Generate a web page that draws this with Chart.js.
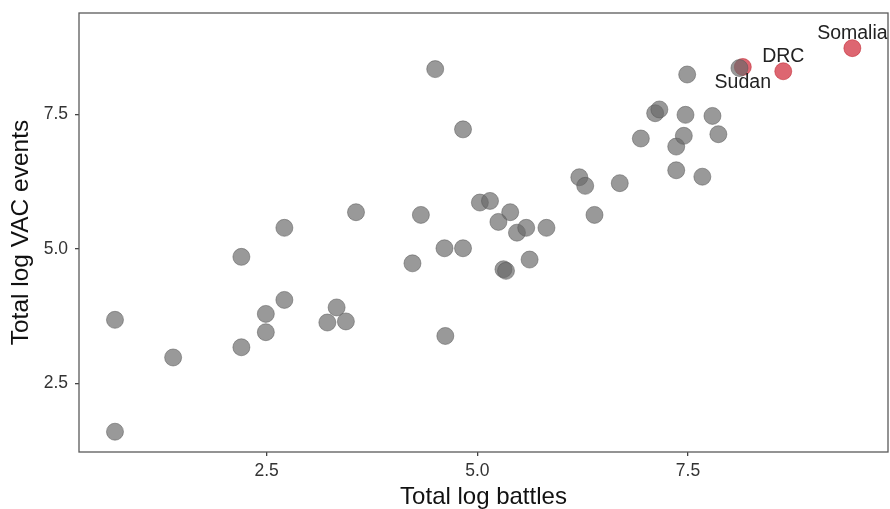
<!DOCTYPE html>
<html>
<head>
<meta charset="utf-8">
<script src="https://cdn.jsdelivr.net/npm/chart.js@4"></script>
<style>
  html, body { margin: 0; padding: 0; background: #fff; }
  #wrap { width: 890px; height: 509px; }
</style>
</head>
<body>
<div id="wrap"><canvas id="chart" width="890" height="509"></canvas></div>
<script>
// other countries (total log battles, total log VAC events)
const otherBattles = [0.70, 0.70, 1.39, 2.20, 2.20, 2.49, 2.49, 2.71, 2.71, 3.22, 3.33, 3.44, 3.56,
    4.33, 4.23, 4.50, 4.61, 4.62, 4.83, 4.83, 5.03, 5.15, 5.39, 5.25, 5.47, 5.58, 5.82, 5.62, 5.31,
    5.34, 6.21, 6.28, 6.69, 6.39, 6.94, 7.11, 7.16, 7.36, 7.36, 7.45, 7.47, 7.49, 7.79, 7.86, 7.67, 8.11];
const otherVac = [3.68, 1.60, 2.98, 4.85, 3.17, 3.79, 3.45, 5.39, 4.05, 3.63, 3.91, 3.65, 5.68,
    5.63, 4.73, 8.34, 5.01, 3.38, 7.22, 5.01, 5.86, 5.89, 5.68, 5.50, 5.30, 5.39, 5.39, 4.80, 4.62,
    4.59, 6.33, 6.17, 6.22, 5.63, 7.05, 7.52, 7.59, 6.90, 6.46, 7.10, 7.49, 8.24, 7.47, 7.13, 6.34, 8.36];

// highlighted countries
const hiNames = ['Sudan', 'DRC', 'Somalia'];
const hiBattles = [8.15, 8.63, 9.45];
const hiVac = [8.38, 8.30, 8.73];
const hiLabelSide = ['below', 'above', 'above'];

const xTicks = [2.5, 5.0, 7.5];
const yTicks = [2.5, 5.0, 7.5];

const FONT = "'Liberation Sans', Arial, Helvetica, sans-serif";

const panelBox = {
    id: 'panelBox',
    afterDraw(chart) {
        const { ctx, chartArea: a } = chart;
        ctx.save();
        ctx.strokeStyle = '#5a5a5a';
        ctx.lineWidth = 1.3;
        ctx.strokeRect(a.left, a.top, a.right - a.left, a.bottom - a.top);
        ctx.restore();
    }
};

const pointLabels = {
    id: 'pointLabels',
    afterDatasetsDraw(chart) {
        const { ctx } = chart;
        const meta = chart.getDatasetMeta(1);
        ctx.save();
        ctx.font = '19.5px ' + FONT;
        ctx.fillStyle = '#222';
        ctx.textAlign = 'center';
        ctx.textBaseline = 'middle';
        meta.data.forEach((pt, i) => {
            const dy = hiLabelSide[i] === 'below' ? 16 : -15;
            ctx.fillText(hiNames[i], pt.x, pt.y + dy);
        });
        ctx.restore();
    }
};

// fixed axis box sizes, no automatic label padding around the panel
const fixBox = size => s => {
    if (s.isHorizontal()) s.height = size; else s.width = size;
    s.paddingTop = 0; s.paddingBottom = 0; s.paddingLeft = 0; s.paddingRight = 0;
};

new Chart(document.getElementById('chart'), {
    type: 'scatter',
    data: {
        datasets: [
            {
                data: otherBattles.map((x, i) => ({ x, y: otherVac[i] })),
                backgroundColor: 'rgba(105,105,105,0.68)',
                borderColor: 'rgba(85,85,85,0.5)',
                borderWidth: 1,
                pointRadius: 8.5,
                pointHoverRadius: 8.5
            },
            {
                data: hiBattles.map((x, i) => ({ x, y: hiVac[i] })),
                backgroundColor: 'rgba(205,30,45,0.68)',
                borderColor: 'rgba(190,30,40,0.5)',
                borderWidth: 1,
                pointRadius: 8.5,
                pointHoverRadius: 8.5
            }
        ]
    },
    options: {
        responsive: false,
        animation: false,
        layout: { autoPadding: false, padding: { top: 13, right: 2, left: 0, bottom: 0 } },
        plugins: { legend: { display: false }, tooltip: { enabled: false } },
        scales: {
            x: {
                type: 'linear',
                min: 0.273,
                max: 9.873,
                afterBuildTicks: s => { s.ticks = xTicks.map(v => ({ value: v })); },
                afterFit: fixBox(57),
                grid: { drawOnChartArea: false, tickLength: 4, color: '#444', lineWidth: 1.3 },
                border: { display: false },
                ticks: {
                    padding: 5,
                    color: '#333',
                    font: { family: FONT, size: 17.5 },
                    callback: v => Number(v).toFixed(1)
                },
                title: {
                    display: true,
                    text: 'Total log battles',
                    color: '#111',
                    font: { family: FONT, size: 24 },
                    padding: { top: 0, bottom: -3 }
                }
            },
            y: {
                type: 'linear',
                min: 1.223,
                max: 9.383,
                afterBuildTicks: s => { s.ticks = yTicks.map(v => ({ value: v })); },
                afterFit: fixBox(79),
                grid: { drawOnChartArea: false, tickLength: 4, color: '#444', lineWidth: 1.3 },
                border: { display: false },
                ticks: {
                    padding: 7,
                    color: '#333',
                    font: { family: FONT, size: 17.5 },
                    callback: v => Number(v).toFixed(1)
                },
                title: {
                    display: true,
                    text: 'Total log VAC events',
                    color: '#111',
                    font: { family: FONT, size: 24.5 },
                    padding: { top: 7, bottom: 0 }
                }
            }
        }
    },
    plugins: [panelBox, pointLabels]
});
</script>
</body>
</html>
